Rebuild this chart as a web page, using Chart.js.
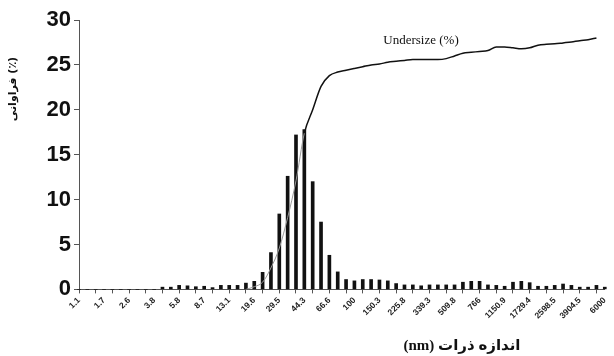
<!DOCTYPE html>
<html>
<head>
<meta charset="utf-8">
<script src="https://cdn.jsdelivr.net/npm/chart.js@4.4.0/dist/chart.umd.min.js"></script>
<style>
  body { margin: 0; background: #fff; }
  #wrap { width: 614px; height: 356px; }
</style>
</head>
<body>
<div id="wrap"><canvas id="size-chart"></canvas></div>
<script>
// tick labels (nm), one every 3 bins
const tickLabels = ['1.1','1.7','2.6','3.8','5.8','8.7','13.1','19.6','29.5','44.3','66.6','100',
  '150.3','225.8','339.3','509.8','766','1150.9','1729.4','2598.5','3904.5','6000'];

// frequency (%) per bin, 64 bins
const frequency = [
  0, 0, 0, 0, 0, 0, 0, 0, 0, 0,
  0.25, 0.25, 0.45, 0.4, 0.3, 0.35, 0.2, 0.45, 0.45, 0.45,
  0.7, 0.9, 1.9, 4.1, 8.4, 12.6, 17.2, 17.8, 12.0, 7.5,
  3.8, 1.95, 1.1, 0.95, 1.1, 1.1, 1.05, 0.95, 0.65, 0.5,
  0.5, 0.4, 0.5, 0.5, 0.5, 0.5, 0.8, 0.9, 0.9, 0.5,
  0.45, 0.35, 0.8, 0.9, 0.75, 0.35, 0.35, 0.45, 0.6, 0.45,
  0.25, 0.25, 0.45, 0.25
];

// undersize curve, read on the same axis
const undersize = [
  null, null, null, null, null, null, null, null, null, null,
  null, null, null, null, null, null, null, null, null, null,
  0, 0.3, 0.8, 2.4, 4.6, 8.0, 12.1, 17.4, 20.0, 22.6,
  23.8, 24.2, 24.4, 24.6, 24.8, 25.0, 25.1, 25.3, 25.4, 25.5,
  25.6, 25.6, 25.6, 25.6, 25.7, 26.0, 26.3, 26.4, 26.5, 26.6,
  27.0, 27.0, 26.9, 26.8, 26.9, 27.2, 27.3, 27.35, 27.45, 27.55,
  27.7, 27.8, 28.0, null
];

const categories = frequency.map((v, i) => (i % 3 === 0 ? tickLabels[i / 3] : ''));

// extra texts: axis titles and curve name
const textPlugin = {
  id: 'texts',
  afterDraw(chart) {
    const c = chart.ctx;
    c.save();
    c.fillStyle = '#111';
    c.textAlign = 'center';
    c.textBaseline = 'middle';
    c.font = 'bold 15px "Liberation Serif", "DejaVu Sans"';
    c.fillText('(nm) اندازه ذرات', 462, 346);
    c.font = '13px "Liberation Serif"';
    c.fillText('Undersize (%)', 421, 41);
    c.translate(13, 89);
    c.rotate(-Math.PI / 2);
    c.font = 'bold 11px "DejaVu Sans"';
    c.fillText('فراوانی (٪)', 0, 0);
    c.restore();
  }
};

new Chart(document.getElementById('size-chart'), {
  type: 'bar',
  data: {
    labels: categories,
    datasets: [{
      type: 'line',
      label: 'Undersize (%)',
      data: undersize,
      borderColor: '#111',
      borderWidth: 1.5,
      pointRadius: 0,
      cubicInterpolationMode: 'monotone',
      order: 0,
      segment: {
        borderColor: ctx => (ctx.p0DataIndex < 27 ? '#9a9a9a' : '#111'),
        borderWidth: ctx => (ctx.p0DataIndex < 27 ? 1 : 1.5)
      }
    }, {
      label: 'Frequency (%)',
      data: frequency,
      backgroundColor: '#111',
      barThickness: 3,
      clip: false,
      order: 1
    }]
  },
  options: {
    responsive: true,
    maintainAspectRatio: false,
    animation: false,
    layout: { padding: { top: 20, right: 6, bottom: 33, left: 0 } },
    plugins: {
      legend: { display: false },
      tooltip: { enabled: false }
    },
    scales: {
      x: {
        offset: false,
        grid: {
          offset: false,
          drawOnChartArea: false,
          tickLength: 4,
          color: ctx => (ctx.index % 2 === 0 ? '#555' : 'rgba(0,0,0,0)')
        },
        border: { color: '#555', width: 1 },
        ticks: {
          autoSkip: false,
          minRotation: 45,
          maxRotation: 45,
          padding: 2,
          color: '#222',
          font: { family: 'Liberation Sans', size: 8.5, weight: 'bold' },
          callback: (v, i) => categories[i]
        }
      },
      y: {
        min: 0,
        max: 30,
        afterFit: s => { s.width = 79; },
        grid: { drawOnChartArea: false, tickLength: 5, color: '#555' },
        border: { color: '#555', width: 1 },
        ticks: {
          stepSize: 5,
          padding: 3,
          color: '#111',
          font: { family: 'Liberation Sans', size: 22, weight: 'bold' }
        }
      }
    }
  },
  plugins: [textPlugin]
});
</script>
</body>
</html>
